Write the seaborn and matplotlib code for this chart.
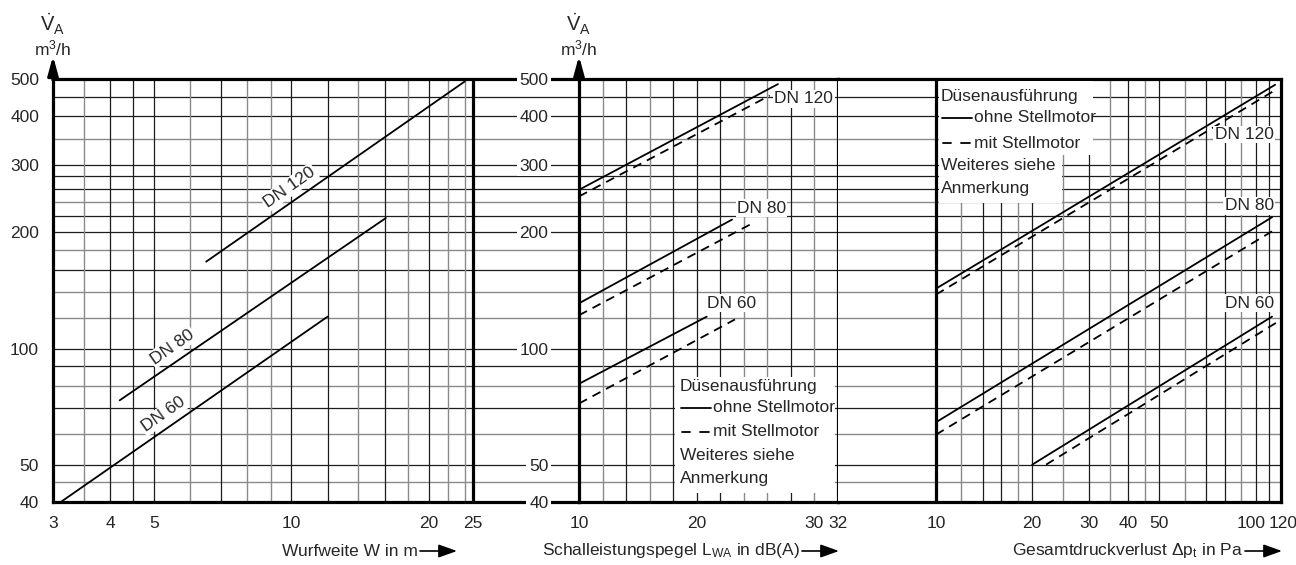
import numpy as np
import pandas as pd
import seaborn as sns
import matplotlib
matplotlib.use("Agg")
import matplotlib.pyplot as plt
import matplotlib.transforms as mtransforms
from matplotlib.patches import Rectangle
from matplotlib.lines import Line2D
from matplotlib.ticker import FixedLocator, FixedFormatter, NullLocator

# ---------------- data ----------------
# Panel 1: Wurfweite W [m] vs Volumenstrom [m3/h]
w_dn120 = [6.5, 24.0];  v_w_dn120 = [168, 493]
w_dn80 = [4.2, 16.1];   v_w_dn80 = [73.4, 218]
w_dn60 = [3.12, 12.0];  v_w_dn60 = [40, 121]

# Panel 2: Schallleistungspegel L_WA [dB(A)]
l_dn120_o = [10, 26.9];  v_l_dn120_o = [258, 485]
l_dn120_m = [10, 26.2];  v_l_dn120_m = [248, 453]
l_dn80_o = [10, 23.0];   v_l_dn80_o = [131, 216]
l_dn80_m = [10, 24.7];   v_l_dn80_m = [122, 211]
l_dn60_o = [10, 20.85];  v_l_dn60_o = [81, 121]
l_dn60_m = [10, 23.25];  v_l_dn60_m = [72, 119]

# Panel 3: Gesamtdruckverlust dp_t [Pa]
p_dn120_o = [10, 115];   v_p_dn120_o = [143, 483]
p_dn120_m = [10, 116.6]; v_p_dn120_m = [138, 471]
p_dn80_o = [10, 112.5];  v_p_dn80_o = [64.4, 219]
p_dn80_m = [10, 116.6];  v_p_dn80_m = [59.8, 205]
p_dn60_o = [20, 112.5];  v_p_dn60_o = [50, 121]
p_dn60_m = [22.1, 116.6]; v_p_dn60_m = [50, 117]

y_ticks = [40, 50, 100, 200, 300, 400, 500]
x1_ticks = [3, 4, 5, 10, 20, 25]
x2_ticks = [10, 20, 30, 32]
x3_ticks = [10, 20, 30, 40, 50, 100, 120]

y_grid_dark = [50, 70, 90, 100, 160, 200, 220, 260, 280, 300, 400, 450]
y_grid_gray = [45, 60, 80, 120, 140, 180, 240, 350]
x1_grid_dark = [4, 4.5, 5, 7, 10, 12, 16, 20]
x1_grid_gray = [3.5, 6, 8, 9, 14, 18, 22, 24]
x2_grid_dark = [14, 18, 20, 22, 28]
x2_grid_gray = [12, 16, 24, 26, 30]
x3_grid_dark = [14, 16, 20, 30, 40, 50, 70, 80, 100, 110]
x3_grid_gray = [12, 18, 25, 35, 45, 60, 90]

def frame(pairs):
    rows = []
    for dn, typ, xs, vs in pairs:
        for x, v in zip(xs, vs):
            rows.append({"x": x, "v": v, "DN": dn, "typ": typ})
    return pd.DataFrame(rows)

df1 = frame([("DN 120", "ohne", w_dn120, v_w_dn120),
             ("DN 80", "ohne", w_dn80, v_w_dn80),
             ("DN 60", "ohne", w_dn60, v_w_dn60)])
df2 = frame([("DN 120", "ohne", l_dn120_o, v_l_dn120_o), ("DN 120", "mit", l_dn120_m, v_l_dn120_m),
             ("DN 80", "ohne", l_dn80_o, v_l_dn80_o), ("DN 80", "mit", l_dn80_m, v_l_dn80_m),
             ("DN 60", "ohne", l_dn60_o, v_l_dn60_o), ("DN 60", "mit", l_dn60_m, v_l_dn60_m)])
df3 = frame([("DN 120", "ohne", p_dn120_o, v_p_dn120_o), ("DN 120", "mit", p_dn120_m, v_p_dn120_m),
             ("DN 80", "ohne", p_dn80_o, v_p_dn80_o), ("DN 80", "mit", p_dn80_m, v_p_dn80_m),
             ("DN 60", "ohne", p_dn60_o, v_p_dn60_o), ("DN 60", "mit", p_dn60_m, v_p_dn60_m)])

# ---------------- style ----------------
sns.set_style("white")
plt.rcParams["font.family"] = ["Liberation Sans", "DejaVu Sans"]
plt.rcParams["mathtext.fontset"] = "custom"
plt.rcParams["mathtext.rm"] = "Liberation Sans"
plt.rcParams["mathtext.it"] = "Liberation Sans"
plt.rcParams["mathtext.bf"] = "Liberation Sans:bold"
FS = 12.5
DARK = "#1c1c1c"
GRAY = "#8a8a8a"
SPW = 2.3

W, H = 1296, 565
fig = plt.figure(figsize=(W / 100, H / 100), dpi=100)
def fx(x): return x / W
def fy(y): return 1 - y / H

TOP, BOT = 79, 502
X1L, X1_25, X2L, X2R, X3_10, X3R = 53, 473, 579, 838, 936, 1281
hgt = (BOT - TOP) / H
ax1 = fig.add_axes([fx(X1L), fy(BOT), fx(X2L - X1L), hgt])
ax2 = fig.add_axes([fx(X2L), fy(BOT), fx(X2R - X2L), hgt])
ax3 = fig.add_axes([fx(X2R), fy(BOT), fx(X3R - X2R), hgt])

pal = {"DN 120": "black", "DN 80": "black", "DN 60": "black"}
dashes = {"ohne": "", "mit": (5, 3.5)}

for ax, df in [(ax1, df1), (ax2, df2), (ax3, df3)]:
    sns.lineplot(data=df, x="x", y="v", hue="DN", style="typ", palette=pal,
                 dashes=dashes, estimator=None, sort=False, legend=False,
                 lw=1.3, ax=ax, zorder=4)
    ax.set_yscale("log")
    ax.set_ylim(40, 500)
    ax.set_xlabel(""); ax.set_ylabel("")
    for s in ax.spines.values():
        s.set_linewidth(SPW); s.set_color("black")
    for yv in y_grid_dark:
        ax.axhline(yv, color=DARK, lw=0.9, zorder=1)
    for yv in y_grid_gray:
        ax.axhline(yv, color=GRAY, lw=1.0, zorder=1)
    ax.yaxis.set_minor_locator(NullLocator())
    ax.xaxis.set_minor_locator(NullLocator())
    ax.tick_params(axis="both", which="major", labelsize=FS, direction="out",
                   length=6, width=1.3, color="black", top=False, right=False)

# panel 1
ax1.set_xscale("log")
ax1.set_xlim(3, 3 * (25 / 3) ** ((X2L - X1L) / (X1_25 - X1L)))
for xv in x1_grid_dark:
    ax1.axvline(xv, color=DARK, lw=0.9, zorder=1)
for xv in x1_grid_gray:
    ax1.axvline(xv, color=GRAY, lw=1.0, zorder=1)
ax1.axvline(25, color="black", lw=SPW, zorder=2)
ax1.spines["right"].set_visible(False)
ax1.xaxis.set_major_locator(FixedLocator(x1_ticks))
ax1.xaxis.set_major_formatter(FixedFormatter([str(t) for t in x1_ticks]))
ax1.xaxis.set_minor_locator(NullLocator())
ax1.yaxis.set_major_locator(FixedLocator(y_ticks))
ax1.yaxis.set_major_formatter(FixedFormatter([str(t) for t in y_ticks]))
ax1.tick_params(axis="y", pad=4)
ax1.tick_params(axis="x", pad=4)

# panel 2
ax2.set_xlim(10, 32)
for xv in x2_grid_dark:
    ax2.axvline(xv, color=DARK, lw=0.9, zorder=1)
for xv in x2_grid_gray:
    ax2.axvline(xv, color=GRAY, lw=1.0, zorder=1)
ax2.xaxis.set_major_locator(FixedLocator(x2_ticks))
ax2.xaxis.set_major_formatter(FixedFormatter([str(t) for t in x2_ticks]))
ax2.yaxis.set_major_locator(FixedLocator(y_ticks))
ax2.yaxis.set_major_formatter(FixedFormatter([str(t) for t in y_ticks]))
ax2.tick_params(axis="y", length=0, pad=22)
ax2.tick_params(axis="x", pad=4)
for lbl in ax2.get_yticklabels():
    lbl.set_bbox(dict(facecolor="white", edgecolor="none", pad=2.0))

# panel 3
ax3.set_xscale("log")
ax3.set_xlim(10 / 12 ** ((X3_10 - X2R) / (X3R - X3_10)), 120)
for xv in x3_grid_dark:
    ax3.axvline(xv, color=DARK, lw=0.9, zorder=1)
for xv in x3_grid_gray:
    ax3.axvline(xv, color=GRAY, lw=1.0, zorder=1)
ax3.axvline(10, color="black", lw=SPW, zorder=2)
ax3.spines["left"].set_visible(False)
ax3.xaxis.set_major_locator(FixedLocator(x3_ticks))
ax3.xaxis.set_major_formatter(FixedFormatter([str(t) for t in x3_ticks]))
ax3.xaxis.set_minor_locator(NullLocator())
ax3.yaxis.set_major_locator(NullLocator())
ax3.tick_params(axis="x", pad=4)
# nudge the touching labels "100" and "120" apart a little
for lbl in ax3.get_xticklabels():
    if lbl.get_text() == "100":
        lbl.set_transform(lbl.get_transform() + mtransforms.ScaledTranslation(-3 / 72, 0, fig.dpi_scale_trans))
    elif lbl.get_text() == "120":
        lbl.set_transform(lbl.get_transform() + mtransforms.ScaledTranslation(1.5 / 72, 0, fig.dpi_scale_trans))

# ---------------- DN labels ----------------
bb = dict(facecolor="white", edgecolor="none", pad=1.0)
ax1.text(9.9, 262, "DN 120", rotation=35, ha="center", va="center", fontsize=FS, bbox=bb, zorder=5)
ax1.text(5.48, 101, "DN 80", rotation=35, ha="center", va="center", fontsize=FS, bbox=bb, zorder=5)
ax1.text(5.24, 67.4, "DN 60", rotation=35, ha="center", va="center", fontsize=FS, bbox=bb, zorder=5)
ax2.text(29.1, 444, "DN 120", ha="center", va="center", fontsize=FS, bbox=bb, zorder=5)
ax2.text(25.5, 231, "DN 80", ha="center", va="center", fontsize=FS, bbox=bb, zorder=5)
ax2.text(22.97, 131, "DN 60", ha="center", va="center", fontsize=FS, bbox=bb, zorder=5)
ax3.text(92.1, 359, "DN 120", ha="center", va="center", fontsize=FS, bbox=bb, zorder=5)
ax3.text(95.5, 234.5, "DN 80", ha="center", va="center", fontsize=FS, bbox=bb, zorder=5)
ax3.text(95.6, 131, "DN 60", ha="center", va="center", fontsize=FS, bbox=bb, zorder=5)

# ---------------- legend boxes ----------------
def white_box(x0, y0, x1, y1):
    fig.patches.append(Rectangle((fx(x0), fy(y1)), fx(x1 - x0), (y1 - y0) / H,
                                 transform=fig.transFigure, facecolor="white",
                                 edgecolor="none", zorder=2))

def legend_text(tx, ys):
    fig.text(fx(tx), fy(ys[0]), "Düsenausführung", fontsize=FS, va="center", ha="left", zorder=4)
    fig.add_artist(Line2D([fx(tx + 1), fx(tx + 31)], [fy(ys[1]), fy(ys[1])], color="black",
                          lw=1.3, transform=fig.transFigure, zorder=4))
    fig.text(fx(tx + 33), fy(ys[1]), "ohne Stellmotor", fontsize=FS, va="center", ha="left", zorder=4)
    for a, b in [(tx + 2, tx + 10), (tx + 20, tx + 29)]:
        fig.add_artist(Line2D([fx(a), fx(b)], [fy(ys[2]), fy(ys[2])], color="black",
                              lw=1.3, transform=fig.transFigure, zorder=4))
    fig.text(fx(tx + 33), fy(ys[2]), "mit Stellmotor", fontsize=FS, va="center", ha="left", zorder=4)
    fig.text(fx(tx), fy(ys[3]), "Weiteres siehe", fontsize=FS, va="center", ha="left", zorder=4)
    fig.text(fx(tx), fy(ys[4]), "Anmerkung", fontsize=FS, va="center", ha="left", zorder=4)

white_box(675, 377, 835, 493)
legend_text(680, [386, 408, 432, 455, 478])
white_box(939, 81, 1093, 155)
white_box(939, 155, 1062, 203)
legend_text(941, [96, 118, 143, 166, 189])

# ---------------- axis titles & arrows ----------------
for xa in (X1L, X2L):
    fig.text(fx(xa), fy(24), r"$\dot{\mathrm{V}}_\mathrm{A}$", fontsize=14.5, ha="center", va="center")
    fig.text(fx(xa), fy(48), r"m$^\mathrm{3}$/h", fontsize=FS, ha="center", va="center")
    ax1.annotate("", xy=(fx(xa), fy(56)), xycoords="figure fraction",
                 xytext=(fx(xa), fy(TOP + 1)), textcoords="figure fraction",
                 arrowprops=dict(arrowstyle="-|>,head_length=0.8,head_width=0.22",
                                 color="black", lw=SPW, mutation_scale=14,
                                 shrinkA=0, shrinkB=0), annotation_clip=False)

xlabels = [("Wurfweite W in m", 418, 457),
           (r"Schalleistungspegel L$_\mathrm{WA}$ in dB(A)", 800, 839),
           (r"Gesamtdruckverlust Δp$_\mathrm{t}$ in Pa", 1243, 1282)]
for txt, xe, xa in xlabels:
    fig.text(fx(xe), fy(551), txt, fontsize=FS, ha="right", va="center")
    ax1.annotate("", xy=(fx(xa), fy(551)), xycoords="figure fraction",
                 xytext=(fx(xe + 2), fy(551)), textcoords="figure fraction",
                 arrowprops=dict(arrowstyle="-|>,head_length=0.7,head_width=0.25",
                                 color="black", lw=1.2, mutation_scale=16,
                                 shrinkA=0, shrinkB=0), annotation_clip=False)

fig.savefig("out.png", dpi=100)
